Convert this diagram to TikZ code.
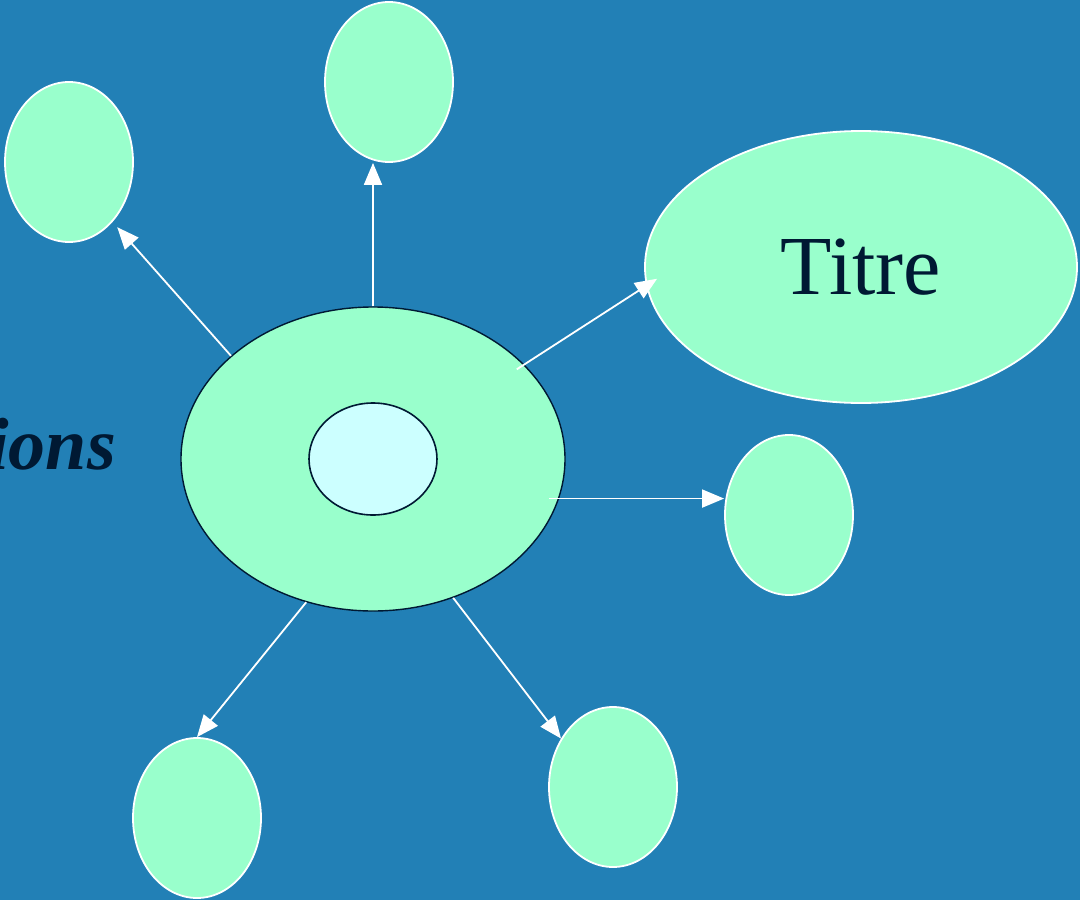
\documentclass[tikz,border=0pt]{standalone}
\usepackage{fontspec}
\setmainfont{Liberation Serif}
\usetikzlibrary{shapes.geometric, arrows.meta, positioning}
\definecolor{slideblue}{RGB}{34,128,182}
\definecolor{mint}{RGB}{153,255,204}
\definecolor{palecyan}{RGB}{204,255,255}
\definecolor{inknavy}{RGB}{0,25,51}

\tikzset{
    bubble/.style={ellipse, draw=white, line width=1.8pt, fill=mint, inner sep=0pt,
        minimum width=128pt, minimum height=160pt},
    link/.style={draw=white, line width=1.8pt, -{Triangle[length=22pt, width=18pt]}},
}

\begin{document}
\begin{tikzpicture}[x=1pt, y=-1pt]
            \fill[slideblue] (0,0) rectangle (1080,900);
            \useasboundingbox (0,0) rectangle (1080,900);

            % centre
            \node[ellipse, draw=inknavy, line width=1.4pt, fill=mint, inner sep=0pt,
                minimum width=384pt, minimum height=304pt] (centre) at (373,459) {};
            \node[ellipse, draw=inknavy, line width=1.6pt, fill=palecyan, inner sep=0pt,
                minimum width=128pt, minimum height=112pt] (core) at (373,459) {};

            % outer bubbles
            \node[bubble] (up) at (389,82) {};
            \node[bubble] (upleft) at (69,162) {};
            \node[bubble, minimum width=432pt, minimum height=272pt, text=inknavy,
                font=\fontsize{84}{90}\selectfont] (titre) at (861,267) {\raisebox{-8pt}{Titre}};
            \node[bubble] (right) at (789,515) {};
            \node[bubble] (downleft) at (197,818) {};
            \node[bubble] (downright) at (613,787) {};

            \node[anchor=base east, text=inknavy, inner sep=0pt,
                font=\fontsize{74}{80}\selectfont\bfseries\itshape] (side) at (116,469) {ions};

            \draw[link] (centre.north) -- (centre.north |- up.south);
            \draw[link, shorten >=7pt] (centre.144) -- (upleft.-54);
            \draw[link, shorten <=-9pt, shorten >=-13pt] (centre.32) -- (titre.-175);
            \draw[link, shorten <=-10pt] (centre.-12) -- (centre.-12 -| right.west);
            \draw[link] (centre.-115) -- (downleft.north);
            \draw[link] (centre.-60) -- (downright.137);

        \end{tikzpicture}
\end{document}
